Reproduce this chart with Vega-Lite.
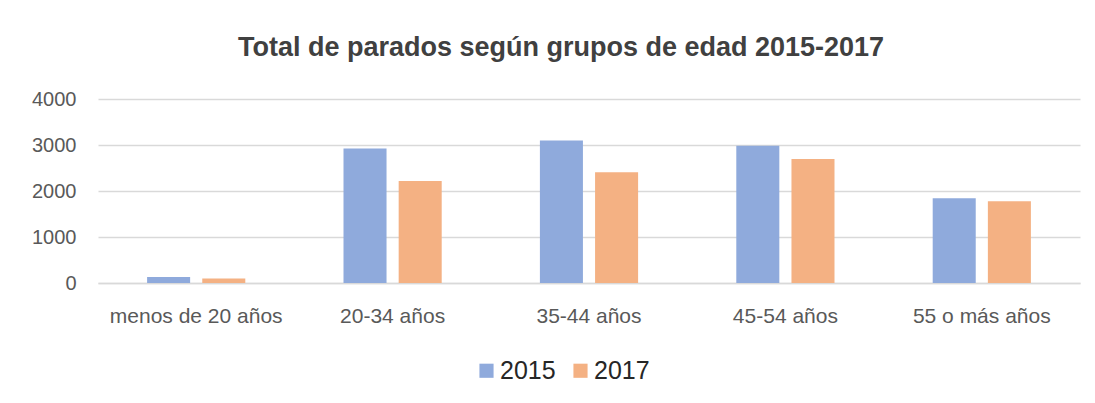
{
  "$schema": "https://vega.github.io/schema/vega-lite/v6.json",
  "autosize": "none",
  "padding": {"left": 98, "top": 99, "right": 15, "bottom": 120},
  "width": 982,
  "height": 184,
  "background": "white",
  "title": {
    "text": "Total de parados según grupos de edad 2015-2017",
    "font": "Liberation Sans",
    "fontSize": 27,
    "fontWeight": "bold",
    "color": "#404040",
    "anchor": "middle",
    "dx": -28,
    "offset": 27
  },
  "data": {
    "values": [
      {"grupo": "menos de 20 años", "anio": "2015", "parados": 130},
      {"grupo": "menos de 20 años", "anio": "2017", "parados": 100},
      {"grupo": "20-34 años", "anio": "2015", "parados": 2925},
      {"grupo": "20-34 años", "anio": "2017", "parados": 2215},
      {"grupo": "35-44 años", "anio": "2015", "parados": 3100},
      {"grupo": "35-44 años", "anio": "2017", "parados": 2410},
      {"grupo": "45-54 años", "anio": "2015", "parados": 2985},
      {"grupo": "45-54 años", "anio": "2017", "parados": 2695},
      {"grupo": "55 o más años", "anio": "2015", "parados": 1840},
      {"grupo": "55 o más años", "anio": "2017", "parados": 1775}
    ]
  },
  "mark": {"type": "bar"},
  "encoding": {
    "x": {
      "field": "grupo",
      "type": "nominal",
      "sort": null,
      "title": null,
      "scale": {"paddingInner": 0.5, "paddingOuter": 0.25},
      "axis": {
        "labelAngle": 0,
        "labelFont": "Liberation Sans",
        "labelFontSize": 21,
        "labelColor": "#595959",
        "labelPadding": 22,
        "domain": true,
        "domainColor": "#d9d9d9",
        "domainWidth": 1.5,
        "ticks": false
      }
    },
    "xOffset": {
      "field": "anio",
      "type": "nominal",
      "scale": {"paddingInner": 0.22}
    },
    "y": {
      "field": "parados",
      "type": "quantitative",
      "title": null,
      "scale": {"domain": [0, 4000]},
      "axis": {
        "values": [0, 1000, 2000, 3000, 4000],
        "format": "d",
        "labelFont": "Liberation Sans",
        "labelFontSize": 20,
        "labelColor": "#595959",
        "labelPadding": 22,
        "domain": false,
        "ticks": false,
        "grid": true,
        "gridColor": "#d9d9d9",
        "gridWidth": 1.5
      }
    },
    "color": {
      "field": "anio",
      "type": "nominal",
      "scale": {"domain": ["2015", "2017"], "range": ["#8faadc", "#f4b183"]},
      "legend": {
        "title": null,
        "orient": "none",
        "direction": "horizontal",
        "legendX": 376,
        "legendY": 259,
        "symbolType": "square",
        "symbolSize": 200,
        "symbolStrokeWidth": 0,
        "labelFont": "Liberation Sans",
        "labelFontSize": 25,
        "labelColor": "#262626",
        "columnPadding": 12,
        "labelOffset": 1
      }
    }
  },
  "config": {
    "view": {"stroke": null}
  }
}
